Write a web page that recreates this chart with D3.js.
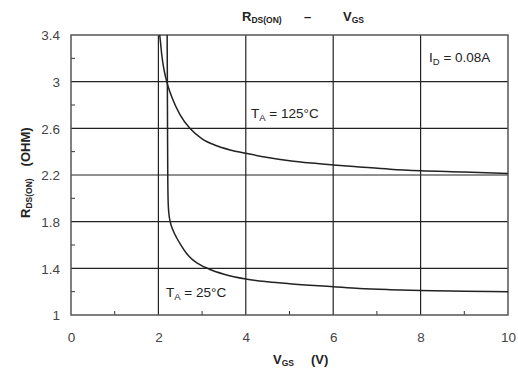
<!DOCTYPE html>
<html><head><meta charset="utf-8">
<script src="https://cdn.jsdelivr.net/npm/d3@7/dist/d3.min.js"></script>
<style>body{margin:0;background:#fff;}svg{display:block;font-family:Arial,"Liberation Sans",sans-serif;}</style>
</head><body><svg id="c" width="518" height="371"></svg>
<script>
const xTicks = [0, 2, 4, 6, 8, 10];
const xMinor = [1, 3, 5, 7, 9];
const yTicks = [1, 1.4, 1.8, 2.2, 2.6, 3, 3.4];
const yMinor = [1.2, 1.6, 2.0, 2.4, 2.8, 3.2];
const yTickLabels = ["1", "1.4", "1.8", "2.2", "2.6", "3", "3.4"];
const vgs125 = [2.03, 2.05, 2.08, 2.12, 2.17, 2.23, 2.32, 2.49, 2.72, 3.0, 3.3, 3.64, 4.0, 4.5, 5.0, 5.5, 6.0, 6.6, 7.3, 8.0, 9.0, 10.0];
const r125 = [3.4, 3.33, 3.22, 3.12, 3.03, 2.95, 2.855, 2.72, 2.6, 2.51, 2.455, 2.415, 2.386, 2.35, 2.322, 2.302, 2.286, 2.269, 2.25, 2.237, 2.226, 2.212];
const vgs25 = [2.20, 2.205, 2.21, 2.215, 2.225, 2.24, 2.27, 2.33, 2.42, 2.53, 2.65, 2.78, 2.91, 3.18, 3.5, 4.0, 4.5, 5.0, 6.0, 6.6, 7.3, 8.0, 9.0, 10.0];
const r25 = [3.4, 3.0, 2.5, 2.15, 1.95, 1.87, 1.80, 1.73, 1.66, 1.59, 1.525, 1.475, 1.44, 1.39, 1.35, 1.309, 1.285, 1.268, 1.243, 1.228, 1.217, 1.209, 1.204, 1.2];

const svg = d3.select("#c");
const L = 71, R = 508, T = 35, B = 315;
const x = d3.scaleLinear().domain([0, 10]).range([L, R]);
const y = d3.scaleLinear().domain([1, 3.4]).range([B, T]);

// grid
svg.append("g").selectAll("line").data(xTicks.slice(1, -1)).join("line")
  .attr("x1", d => x(d)).attr("x2", d => x(d)).attr("y1", T).attr("y2", B)
  .attr("stroke", "#222").attr("stroke-width", 1.2);
svg.append("g").selectAll("line").data(yTicks.slice(1, -1)).join("line")
  .attr("x1", L).attr("x2", R).attr("y1", d => y(d)).attr("y2", d => y(d))
  .attr("stroke", "#222").attr("stroke-width", 1.2);
// minor ticks
svg.append("g").selectAll("line").data(xMinor).join("line")
  .attr("x1", d => x(d)).attr("x2", d => x(d)).attr("y1", B).attr("y2", B - 4)
  .attr("stroke", "#333");
svg.append("g").selectAll("line").data(yMinor).join("line")
  .attr("x1", L).attr("x2", L + 4).attr("y1", d => y(d)).attr("y2", d => y(d))
  .attr("stroke", "#333");
// frame
svg.append("rect").attr("x", L).attr("y", T).attr("width", R - L).attr("height", B - T)
  .attr("fill", "none").attr("stroke", "#555").attr("stroke-width", 1.5);

// axes labels
const xAxis = d3.axisBottom(x).tickValues(xTicks).tickSize(0).tickPadding(0).tickFormat(d3.format("d"));
const gx = svg.append("g").attr("transform", `translate(0,${B})`).call(xAxis);
gx.select(".domain").remove();
gx.selectAll("text").attr("dy", null).attr("y", 27).attr("font-size", 13.5).attr("fill", "#444").attr("font-family", "Arial, Liberation Sans, sans-serif");
const yAxis = d3.axisLeft(y).tickValues(yTicks).tickSize(0).tickPadding(0).tickFormat((d, i) => yTickLabels[i]);
const gy = svg.append("g").attr("transform", `translate(${L - 11},0)`).call(yAxis);
gy.select(".domain").remove();
gy.selectAll("text").attr("dy", "0.35em").attr("font-size", 13.5).attr("fill", "#444").attr("font-family", "Arial, Liberation Sans, sans-serif");

// curves
const line = d3.line().x(d => x(d[0])).y(d => y(d[1])).curve(d3.curveMonotoneX);
svg.append("path").datum(vgs125.map((v, i) => [v, r125[i]]))
  .attr("d", line).attr("fill", "none").attr("stroke", "#222").attr("stroke-width", 1.5);
svg.append("path").datum(vgs25.map((v, i) => [v, r25[i]]))
  .attr("d", line).attr("fill", "none").attr("stroke", "#222").attr("stroke-width", 1.5);

// texts
function sub(sel, main, subs, after, ss) {
  sel.append("tspan").text(main);
  sel.append("tspan").attr("font-size", ss).attr("dy", 3).text(subs);
  sel.append("tspan").attr("dy", -3).text(after);
}
const t1 = svg.append("text").attr("x", 251).attr("y", 118).attr("font-size", 13.5).attr("fill", "#222");
sub(t1, "T", "A", " = 125°C", 9.5);
const t2 = svg.append("text").attr("x", 166).attr("y", 297).attr("font-size", 13.5).attr("fill", "#222");
sub(t2, "T", "A", " = 25°C", 9.5);
const t3 = svg.append("text").attr("x", 429).attr("y", 62).attr("font-size", 13.5).attr("fill", "#222");
sub(t3, "I", "D", " = 0.08A", 9.5);

// title
const tt = svg.append("text").attr("x", 242).attr("y", 21).attr("font-size", 13).attr("font-weight", "bold").attr("fill", "#222");
tt.append("tspan").text("R");
tt.append("tspan").attr("font-size", 8.5).attr("dy", 2).text("DS(ON)");
tt.append("tspan").attr("dy", -2).attr("x", 304).text("–");
tt.append("tspan").attr("x", 343).text("V");
tt.append("tspan").attr("font-size", 8.5).attr("dy", 2).text("GS");

// x title
const xt = svg.append("text").attr("x", 273).attr("y", 364).attr("font-size", 13).attr("font-weight", "bold").attr("fill", "#222");
xt.append("tspan").text("V");
xt.append("tspan").attr("font-size", 8.5).attr("dy", 2).text("GS");
xt.append("tspan").attr("dy", -2).attr("x", 311).text("(V)");

// y title
const yt = svg.append("text").attr("transform", "translate(30,218) rotate(-90)").attr("font-size", 13).attr("font-weight", "bold").attr("fill", "#222");
yt.append("tspan").text("R");
yt.append("tspan").attr("font-size", 8.5).attr("dy", 2).text("DS(ON)");
yt.append("tspan").attr("dy", -2).attr("dx", 12).text("(OHM)");
</script></body></html>
